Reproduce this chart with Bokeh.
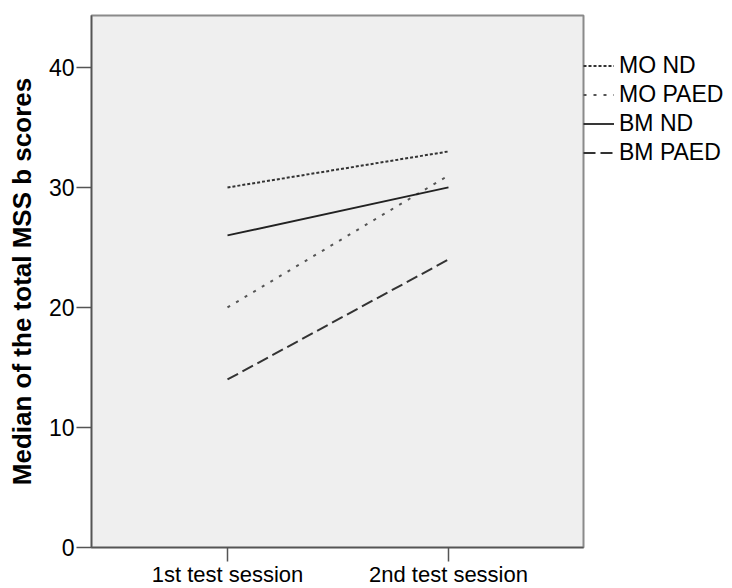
from bokeh.plotting import figure
from bokeh.models import Legend, LegendItem, FixedTicker, Range1d
from bokeh.embed import file_html
from bokeh.resources import INLINE

# ---- data ----
sessions = ["1st test session", "2nd test session"]
session_x = [1, 2]
mo_nd = [30, 33]
mo_paed = [20, 31]
bm_nd = [26, 30]
bm_paed = [14, 24]
y_ticks = [0, 10, 20, 30, 40]
y_label = "Median of the total MSS b scores"

p = figure(width=732, height=588, output_backend="svg", toolbar_location=None,
           x_range=Range1d(0.3846, 2.611), y_range=Range1d(0, 44.33),
           frame_width=492, frame_height=532,
           min_border_left=91, min_border_right=0, min_border_top=15, min_border_bottom=41)

p.background_fill_color = "#efefef"
p.border_fill_color = "white"
p.outline_line_color = "#8a8a8a"
p.outline_line_width = 2
p.xgrid.visible = False
p.ygrid.visible = False

r1 = p.line(session_x, mo_nd, line_color="#333333", line_width=2, line_dash="3 2")
r2 = p.line(session_x, mo_paed, line_color="#555555", line_width=2, line_dash="3 7")
r3 = p.line(session_x, bm_nd, line_color="#222222", line_width=1.8)
r4 = p.line(session_x, bm_paed, line_color="#333333", line_width=2, line_dash="12 5")

# axes
p.xaxis.ticker = FixedTicker(ticks=session_x)
p.xaxis.major_label_overrides = {x: s for x, s in zip(session_x, sessions)}
p.xaxis.minor_tick_line_color = None
p.xaxis.major_tick_out = 14
p.xaxis.major_tick_in = 0
p.xaxis.major_label_standoff = 0
p.xaxis.major_label_text_font = "Liberation Sans"
p.xaxis.major_label_text_font_size = "22px"
p.xaxis.major_label_text_color = "black"
p.xaxis.axis_line_color = "#555555"
p.xaxis.axis_line_width = 1.5
p.xaxis.major_tick_line_color = "#555555"
p.xaxis.major_tick_line_width = 1.5

p.yaxis.ticker = FixedTicker(ticks=y_ticks)
p.yaxis.minor_tick_line_color = None
p.yaxis.major_tick_out = 15
p.yaxis.major_tick_in = 0
p.yaxis.major_label_standoff = 2
p.yaxis.major_label_text_font = "Liberation Sans"
p.yaxis.major_label_text_font_size = "23px"
p.yaxis.major_label_text_color = "black"
p.yaxis.axis_line_color = "#555555"
p.yaxis.axis_line_width = 1.5
p.yaxis.major_tick_line_color = "#555555"
p.yaxis.major_tick_line_width = 1.5
p.yaxis.axis_label = y_label
p.yaxis.axis_label_text_font = "Liberation Sans"
p.yaxis.axis_label_text_font_size = "26px"
p.yaxis.axis_label_text_font_style = "bold"
p.yaxis.axis_label_text_color = "black"
p.yaxis.axis_label_standoff = 9

legend = Legend(items=[
    LegendItem(label="MO ND", renderers=[r1]),
    LegendItem(label="MO PAED", renderers=[r2]),
    LegendItem(label="BM ND", renderers=[r3]),
    LegendItem(label="BM PAED", renderers=[r4]),
], location="top_left")
legend.title = " "
legend.title_text_font_size = "12px"
legend.title_standoff = 22
legend.margin = 0
legend.padding = 3
legend.spacing = 0
legend.glyph_width = 31
legend.glyph_height = 29
legend.label_height = 29
legend.label_standoff = 5
legend.label_text_font = "Liberation Sans"
legend.label_text_font_size = "23px"
legend.label_text_color = "black"
legend.border_line_color = None
legend.background_fill_alpha = 0
p.add_layout(legend, "right")

open("out.html", "w").write(file_html(p, INLINE))
